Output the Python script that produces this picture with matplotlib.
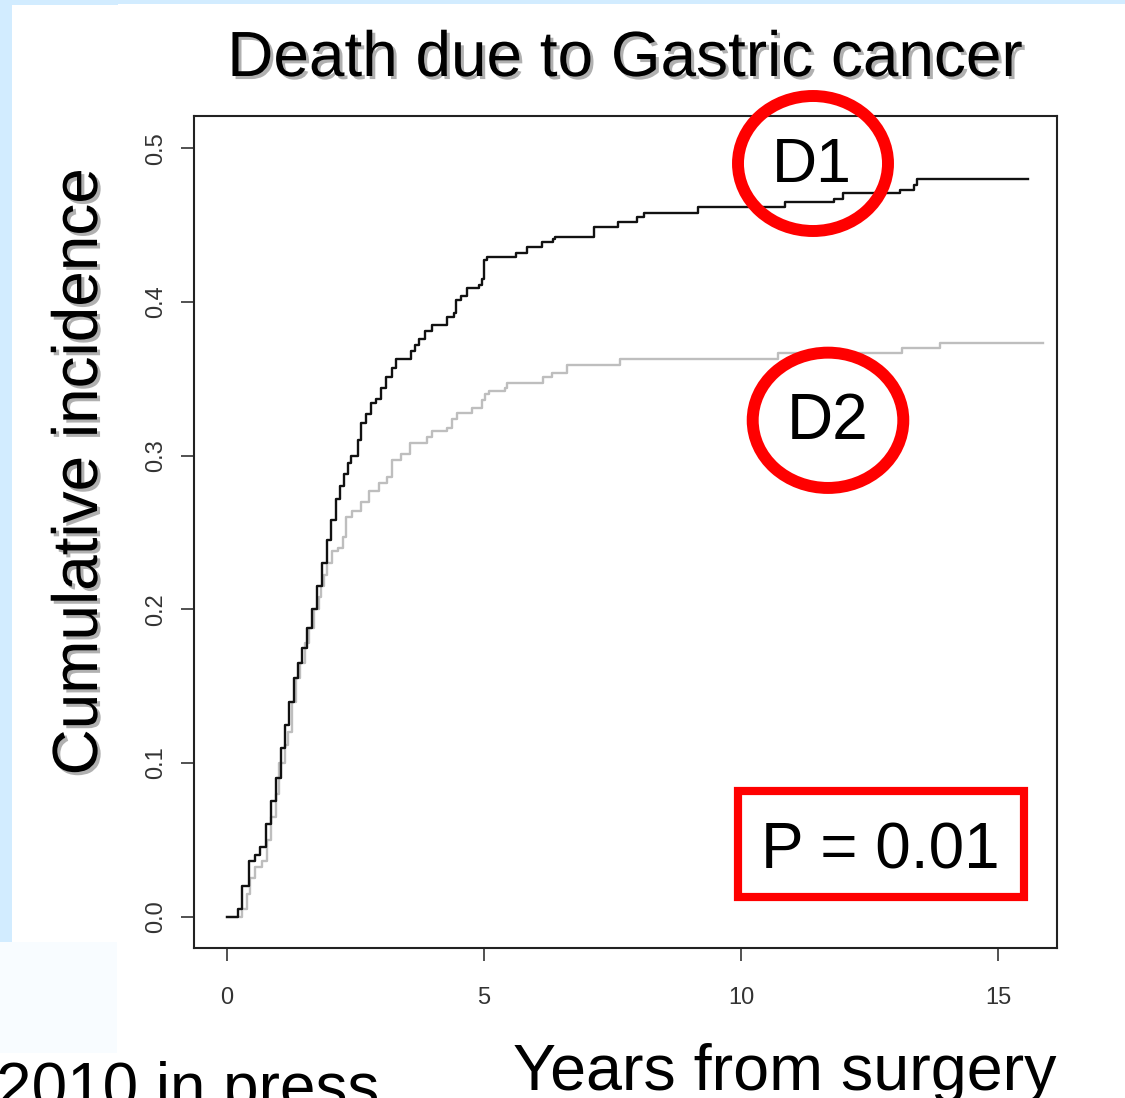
import matplotlib
matplotlib.use("Agg")
import matplotlib.pyplot as plt
from matplotlib.patches import Ellipse, Rectangle
import matplotlib.patheffects as pe

plt.rcParams['font.family'] = ['Liberation Sans', 'DejaVu Sans']

# ---- data ----
d1_years = [0.0, 0.22, 0.30, 0.42, 0.55, 0.65, 0.75, 0.85, 0.95, 1.05, 1.12, 1.20, 1.30,
            1.38, 1.46, 1.55, 1.65, 1.75, 1.85, 1.95, 2.03, 2.12, 2.20, 2.28, 2.35, 2.42,
            2.55, 2.61, 2.70, 2.80, 2.90, 3.00, 3.10, 3.20, 3.28, 3.57, 3.65, 3.74, 3.85,
            3.98, 4.27, 4.42, 4.46, 4.55, 4.66, 4.90, 4.95, 5.00, 5.05, 5.62, 5.84, 6.12,
            6.33, 6.37, 7.13, 7.60, 7.98, 8.10, 9.15, 10.85, 11.80, 11.98, 13.09, 13.35,
            13.42, 15.57]
d1_cuminc = [0.0, 0.005, 0.020, 0.036, 0.040, 0.045, 0.060, 0.075, 0.090, 0.110, 0.125,
             0.140, 0.155, 0.165, 0.175, 0.188, 0.200, 0.215, 0.230, 0.245, 0.258, 0.272,
             0.280, 0.288, 0.295, 0.300, 0.310, 0.321, 0.327, 0.334, 0.337, 0.344, 0.351,
             0.357, 0.363, 0.368, 0.372, 0.376, 0.381, 0.385, 0.390, 0.393, 0.401, 0.404,
             0.409, 0.411, 0.415, 0.427, 0.429, 0.432, 0.436, 0.439, 0.441, 0.442, 0.449,
             0.452, 0.455, 0.458, 0.462, 0.465, 0.467, 0.471, 0.473, 0.476, 0.480, 0.480]

d2_years = [0.0, 0.30, 0.38, 0.45, 0.55, 0.68, 0.78, 0.85, 0.95, 1.02, 1.12, 1.18, 1.27,
            1.35, 1.42, 1.52, 1.60, 1.70, 1.78, 1.82, 1.88, 1.95, 2.05, 2.15, 2.25, 2.32,
            2.44, 2.61, 2.77, 2.96, 3.12, 3.20, 3.39, 3.55, 3.88, 3.99, 4.27, 4.38, 4.48,
            4.77, 4.95, 5.01, 5.10, 5.40, 5.45, 6.14, 6.31, 6.62, 7.64, 10.72, 13.13,
            13.87, 15.86]
d2_cuminc = [0.0, 0.005, 0.015, 0.025, 0.032, 0.036, 0.050, 0.065, 0.080, 0.100, 0.112,
             0.120, 0.140, 0.155, 0.165, 0.178, 0.188, 0.200, 0.208, 0.215, 0.222, 0.230,
             0.238, 0.240, 0.247, 0.260, 0.264, 0.270, 0.277, 0.282, 0.286, 0.297, 0.301,
             0.308, 0.312, 0.316, 0.318, 0.324, 0.328, 0.331, 0.336, 0.340, 0.342, 0.344,
             0.347, 0.351, 0.354, 0.359, 0.363, 0.3665, 0.370, 0.373, 0.373]

x_ticks = [0, 5, 10, 15]
y_ticks = [0.0, 0.1, 0.2, 0.3, 0.4, 0.5]
y_ticklabels = ["0.0", "0.1", "0.2", "0.3", "0.4", "0.5"]

title = "Death due to Gastric cancer"
ylabel = "Cumulative incidence"
xlabel = "Years from surgery"
group_labels = ["D1", "D2"]
p_text = "P = 0.01"
source_text = "2010 in press"

W, H = 1125, 1098
fig = plt.figure(figsize=(W / 100, H / 100), dpi=100)
fig.patch.set_facecolor("white")

def fx(px):
    return px / W

def fy(py):
    return (H - py) / H

# light-blue slide background strips
blue = "#d2ecff"
fig.patches.append(Rectangle((0, fy(942)), fx(12), fy(0) - fy(942), transform=fig.transFigure,
                             facecolor=blue, edgecolor="none", zorder=0))
fig.patches.append(Rectangle((0, fy(4)), 1, fy(0) - fy(4), transform=fig.transFigure,
                             facecolor=blue, edgecolor="none", zorder=0))
fig.patches.append(Rectangle((fx(12), fy(5)), fx(118) - fx(12), fy(0) - fy(5), transform=fig.transFigure,
                             facecolor=blue, edgecolor="none", zorder=0))
fig.patches.append(Rectangle((0, fy(1053)), fx(117), fy(942) - fy(1053), transform=fig.transFigure,
                             facecolor="#f8fcff", edgecolor="none", zorder=0))

ax = fig.add_axes([fx(194), fy(948), fx(1057) - fx(194), fy(116) - fy(948)])
ax.set_facecolor("white")
ax.step(d2_years, d2_cuminc, where="post", color="#bebebe", lw=1.7, zorder=2)
ax.step(d1_years, d1_cuminc, where="post", color="#111111", lw=1.7, zorder=3)

ax.set_xlim(-0.642, 16.14)
ax.set_ylim(-0.0204, 0.521)
ax.set_xticks(x_ticks)
ax.set_xticklabels([str(t) for t in x_ticks])
ax.set_yticks(y_ticks)
ax.set_yticklabels(y_ticklabels, rotation=90, va="center")
for s in ax.spines.values():
    s.set_linewidth(1.5)
    s.set_color("#222222")
ax.tick_params(axis="both", direction="out", length=9.4, width=1.1, color="#222222",
               labelsize=17, labelcolor="#333333")
ax.tick_params(axis="x", pad=19)
ax.tick_params(axis="y", pad=10)

shadow = [pe.withSimplePatchShadow(offset=(2.2, -2.2), shadow_rgbFace="#a8a8a8", alpha=0.9)]

fig.text(fx(625), fy(76), title, ha="center", va="baseline", fontsize=46, color="black",
         path_effects=shadow)
fig.text(fx(97), fy(472), ylabel, rotation=90, rotation_mode="anchor",
         ha="center", va="baseline", fontsize=46, color="black", path_effects=shadow)

fig.text(fx(513), fy(1090), xlabel, ha="left", va="baseline", fontsize=46.5, color="black")
fig.text(fx(-4), fy(1108), source_text, ha="left", va="baseline", fontsize=46, color="black")

# annotations
fig.text(fx(772), fy(181.7), group_labels[0], ha="left", va="baseline", fontsize=45, color="black", zorder=5)
fig.text(fx(787), fy(439.3), group_labels[1], ha="left", va="baseline", fontsize=46, color="black", zorder=5)
fig.patches.append(Ellipse((fx(813), fy(163.5)), fx(150), 135 / H, transform=fig.transFigure,
                           fill=False, edgecolor="#ff0000", lw=8.6, zorder=6))
fig.patches.append(Ellipse((fx(828), fy(420.3)), fx(150.6), 135.3 / H, transform=fig.transFigure,
                           fill=False, edgecolor="#ff0000", lw=8.6, zorder=6))
fig.patches.append(Rectangle((fx(737.5), fy(897)), fx(1023.8) - fx(737.5), (897 - 790.8) / H,
                             transform=fig.transFigure, fill=False, edgecolor="#ff0000",
                             lw=5.9, zorder=6))
fig.text(fx(760.7), fy(868.3), p_text, ha="left", va="baseline", fontsize=46, color="black", zorder=5)

fig.savefig("out.png", dpi=100, facecolor=fig.get_facecolor())
